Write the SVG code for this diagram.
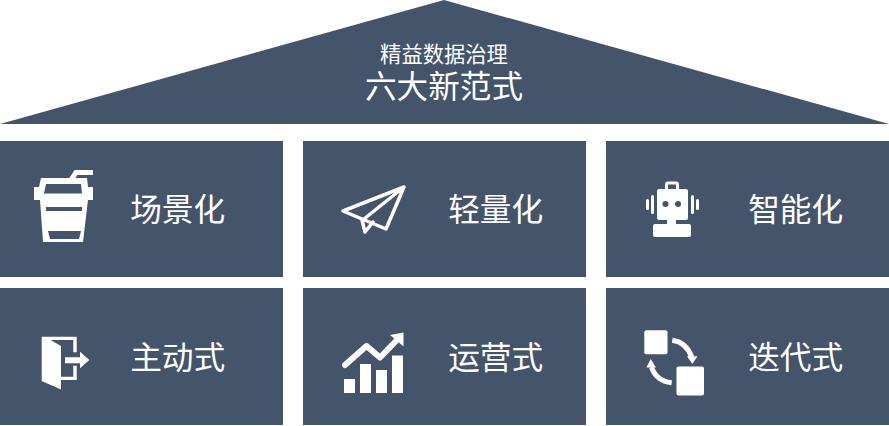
<svg xmlns="http://www.w3.org/2000/svg" width="889" height="426" viewBox="0 0 889 426">
<style>
.b{fill:#44546A}
.i{fill:#fff}
.d{fill:#44546A}
.s{fill:none;stroke:#fff}
text{fill:#fff;font-family:"Noto Sans CJK SC","Liberation Sans",sans-serif;text-anchor:middle}
.l{font-size:31.700px}
</style>
<rect width="889" height="426" fill="#fff"/>
<g id="roof"><polygon class="b" points="444,0 889,124 0,124"/>
<text x="444" y="61.500" font-size="21.300">精益数据治理</text>
<text x="444" y="98" font-size="31.600">六大新范式</text></g>
<g id="n1"><rect class="b" x="0" y="141" width="283" height="136"/>
<path class="s" stroke-width="5" d="M71,180L76,172.500H93"/>
<path class="i" d="M41,178H87L88,187H93V200H88L83,242H43L40,200H34V187H39Z"/>
<path class="d" d="M46,184H81L82,193.500H44ZM46,207H82V211H46ZM48,231H81L79,239H50Z"/>
<text class="l" x="177.700" y="221">场景化</text></g>
<g id="n2"><rect class="b" x="303" y="141" width="283" height="136"/>
<path class="s" stroke-width="3.500" stroke-linejoin="round" stroke-linecap="round" d="M404,187L343,211L386,229ZM404,187L364,219M362,220L365,232L373,222"/>
<text class="l" x="495.700" y="221">轻量化</text></g>
<g id="n3"><rect class="b" x="606" y="141" width="283" height="136"/>
<path class="i" d="M659,189H665V184.500A3,3 0 0 1 668,181.500H676A3,3 0 0 1 679,184.500V189H686A2,2 0 0 1 688,191V218A2,2 0 0 1 686,220H676V224H689A2,2 0 0 1 691,226V235A2,2 0 0 1 689,237H655A2,2 0 0 1 653,235V226A2,2 0 0 1 655,224H667V220H659A2,2 0 0 1 657,218V191A2,2 0 0 1 659,189Z"/>
<rect class="d" x="668" y="184.500" width="8" height="4.500"/>
<circle class="d" cx="665.500" cy="204" r="3"/><circle class="d" cx="678" cy="204" r="3"/>
<rect class="i" x="646" y="199" width="3" height="11" rx="1.500"/><rect class="i" x="651" y="195" width="3" height="19" rx="1.500"/>
<rect class="i" x="691" y="195" width="3" height="19" rx="1.500"/><rect class="i" x="696" y="199" width="3" height="11" rx="1.500"/>
<text class="l" x="795.700" y="221">智能化</text></g>
<g id="n4"><rect class="b" x="0" y="288" width="283" height="137"/>
<path class="i" d="M41.700,336.700H76.700V352.300H73.300V340H50.700L61,346V376.700H73.300V365.700H76.700V380H61V389.500L41.700,381Z"/>
<path class="i" d="M65,357.300H80V351.700L89.300,360L80,368.300V363.300H65Z"/>
<text class="l" x="177.700" y="369">主动式</text></g>
<g id="n5"><rect class="b" x="303" y="288" width="283" height="137"/>
<path class="s" stroke-width="6" stroke-linecap="round" stroke-linejoin="round" d="M345,365L366.500,346L380,357.500L396,341"/>
<path class="i" d="M390,335L403.500,332.500V346.500Z"/>
<rect class="i" x="344" y="379" width="11" height="14"/><rect class="i" x="360" y="364" width="11" height="29"/><rect class="i" x="376" y="370" width="11" height="23"/><rect class="i" x="392" y="355.500" width="11" height="37.500"/>
<text class="l" x="495.700" y="369">运营式</text></g>
<g id="n6"><rect class="b" x="606" y="288" width="283" height="137"/>
<rect class="i" x="644.300" y="330.300" width="23.200" height="24" rx="2"/><rect class="i" x="676.500" y="366.500" width="27.500" height="29" rx="2"/>
<path class="s" stroke-width="5" d="M672.300,340.300Q686,342 691.700,357M671.700,382.700Q656,381 651.500,367"/>
<path class="i" d="M687,356.300H697.500L692.300,364ZM646.300,367.500H656L650.700,359Z"/>
<text class="l" x="795.700" y="369">迭代式</text></g>
<g id="connectors"/>
</svg>
